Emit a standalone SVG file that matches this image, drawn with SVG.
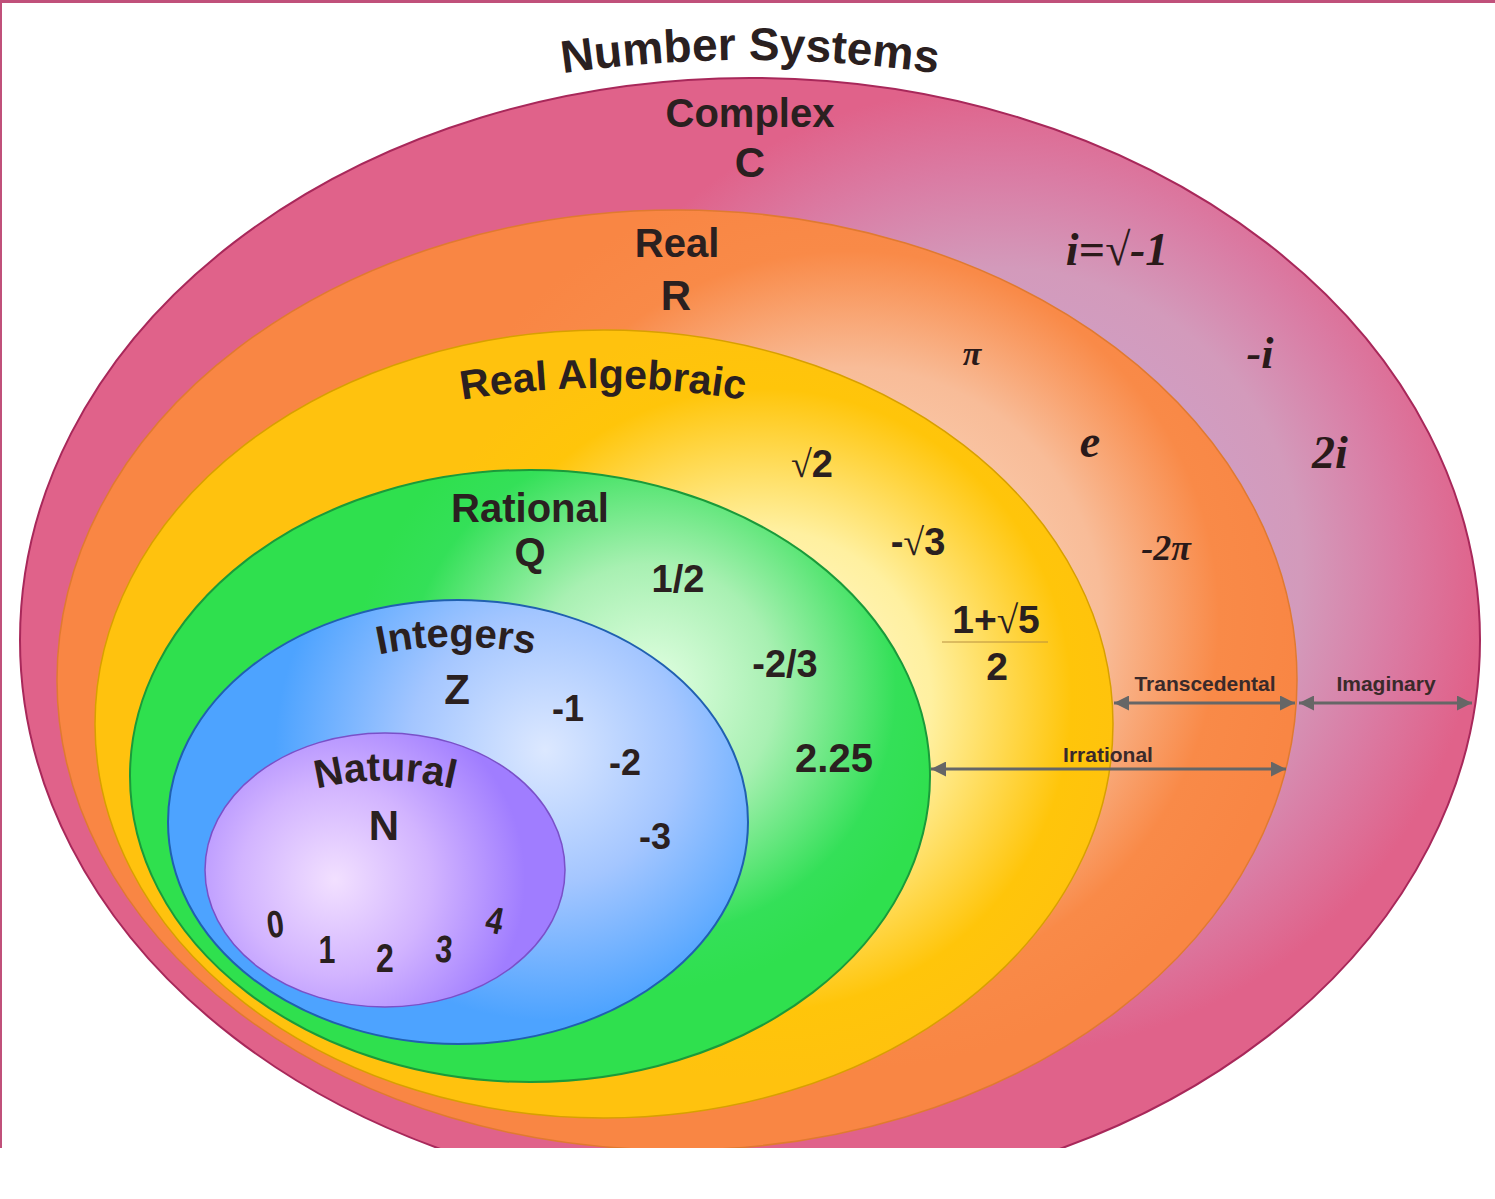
<svg xmlns="http://www.w3.org/2000/svg" width="1495" height="1199" viewBox="0 0 1495 1199">
<style>
.lbl{font-family:"Liberation Sans",Arial,sans-serif;font-weight:bold;fill:#2a2020;text-anchor:middle}
.math{font-family:"Liberation Serif","Times New Roman",serif;font-style:italic;font-weight:bold;fill:#2a1a1a;text-anchor:middle}
.sm{font-family:"Liberation Sans",Arial,sans-serif;font-weight:bold;fill:#3a2a2a;text-anchor:middle;font-size:21px}
.conn{stroke:#666;stroke-width:3;fill:none;marker-start:url(#ah);marker-end:url(#ah)}
</style>
<defs>
<clipPath id="clip"><rect x="0" y="0" width="1495" height="1148"/></clipPath>
<marker id="ah" viewBox="0 0 10 10" refX="10" refY="5" markerWidth="6" markerHeight="5" markerUnits="strokeWidth" orient="auto-start-reverse"><path d="M0,0 L10,5 L0,10 z" fill="#666"/></marker>
<radialGradient id="gC" gradientUnits="userSpaceOnUse" cx="1000" cy="570" r="520"><stop offset="0" stop-color="#c8a8d8"/><stop offset="0.58" stop-color="#d39abb"/><stop offset="0.76" stop-color="#da7ca4"/><stop offset="0.93" stop-color="#e0628a"/></radialGradient>
<radialGradient id="gR" gradientUnits="userSpaceOnUse" cx="850" cy="620" r="450"><stop offset="0" stop-color="#fde0c8"/><stop offset="0.56" stop-color="#f8bc98"/><stop offset="0.82" stop-color="#f98a48"/><stop offset="1" stop-color="#f98644"/></radialGradient>
<radialGradient id="gA" gradientUnits="userSpaceOnUse" cx="760" cy="700" r="380"><stop offset="0" stop-color="#fffbe0"/><stop offset="0.45" stop-color="#fff0a0"/><stop offset="0.82" stop-color="#ffc50a"/><stop offset="1" stop-color="#ffc20e"/></radialGradient>
<radialGradient id="gQ" gradientUnits="userSpaceOnUse" cx="650" cy="690" r="300"><stop offset="0" stop-color="#e4ffe4"/><stop offset="0.42" stop-color="#a8f0b2"/><stop offset="0.82" stop-color="#34e058"/><stop offset="1" stop-color="#2fe04e"/></radialGradient>
<radialGradient id="gZ" gradientUnits="userSpaceOnUse" cx="545" cy="750" r="270"><stop offset="0" stop-color="#dce8ff"/><stop offset="0.5" stop-color="#a4c6ff"/><stop offset="1" stop-color="#4da3ff"/></radialGradient>
<radialGradient id="gN" gradientUnits="userSpaceOnUse" cx="335" cy="880" r="190"><stop offset="0" stop-color="#f2e0ff"/><stop offset="0.5" stop-color="#d2b4ff"/><stop offset="1" stop-color="#a07dff"/></radialGradient>
<path id="arcTitle" d="M 545 76 Q 750 44 955 76"/>
<path id="arcAlg" d="M 450 402 Q 603 374 756 402"/>
<path id="arcInt" d="M 368 657 Q 456 636 544 657"/>
<path id="arcNat" d="M 308 791 Q 385 770 462 791"/>
</defs>
<rect x="0" y="0" width="1495" height="1199" fill="#fff"/>
<line x1="0" y1="1.5" x2="1495" y2="1.5" stroke="#c0507a" stroke-width="3"/>
<line x1="1" y1="0" x2="1" y2="1148" stroke="#c0507a" stroke-width="2"/>

<text class="lbl" font-size="46"><textPath href="#arcTitle" startOffset="50%">Number Systems</textPath></text>

<g clip-path="url(#clip)">
<g id="complex">
<ellipse cx="750" cy="640" rx="730" ry="562" fill="url(#gC)" stroke="#a8285a" stroke-width="2"/>
<text class="lbl" x="750" y="127" font-size="40">Complex</text>
<text class="lbl" x="750" y="177" font-size="42">C</text>
<text class="math" x="1117" y="265" font-size="46">i=√-1</text>
<text class="math" x="1260" y="368" font-size="44">-i</text>
<text class="math" x="1330" y="468" font-size="46">2i</text>
</g>
<g id="real">
<ellipse cx="677" cy="680" rx="620" ry="470" fill="url(#gR)" stroke="#e07a30" stroke-width="1.5"/>
<text class="lbl" x="677" y="257" font-size="40">Real</text>
<text class="lbl" x="676" y="310" font-size="42">R</text>
<text class="math" x="972" y="365" font-size="34" font-weight="normal">π</text>
<text class="math" x="1090" y="457" font-size="46">e</text>
<text class="math" x="1166" y="560" font-size="36" font-weight="normal">-2π</text>
</g>
<g id="algebraic">
<ellipse cx="604" cy="724" rx="509" ry="394" fill="url(#gA)" stroke="#d8a000" stroke-width="1.5"/>
<text class="lbl" font-size="41"><textPath href="#arcAlg" startOffset="50%">Real Algebraic</textPath></text>
<text class="lbl" x="812" y="477" font-size="38"><tspan font-family="Liberation Serif,serif" font-weight="normal">√</tspan>2</text>
<text class="lbl" x="918" y="555" font-size="38">-<tspan font-family="Liberation Serif,serif" font-weight="normal">√</tspan>3</text>
<text class="lbl" x="996" y="633" font-size="39">1+<tspan font-family="Liberation Serif,serif" font-weight="normal">√</tspan>5</text>
<line x1="942" y1="642" x2="1048" y2="642" stroke="#b89040" stroke-width="1"/>
<text class="lbl" x="997" y="680" font-size="39">2</text>
</g>
<g id="rational">
<ellipse cx="530" cy="776" rx="400" ry="306" fill="url(#gQ)" stroke="#1a9a3a" stroke-width="2"/>
<text class="lbl" x="530" y="522" font-size="40">Rational</text>
<text class="lbl" x="530" y="566" font-size="40">Q</text>
<text class="lbl" x="678" y="592" font-size="38">1/2</text>
<text class="lbl" x="785" y="677" font-size="38">-2/3</text>
<text class="lbl" x="834" y="772" font-size="40">2.25</text>
</g>
<g id="integers">
<ellipse cx="458" cy="822" rx="290" ry="222" fill="url(#gZ)" stroke="#2060b0" stroke-width="2"/>
<text class="lbl" font-size="40"><textPath href="#arcInt" startOffset="50%">Integers</textPath></text>
<text class="lbl" x="457" y="704" font-size="42">Z</text>
<text class="lbl" x="568" y="721" font-size="36">-1</text>
<text class="lbl" x="625" y="775" font-size="36">-2</text>
<text class="lbl" x="655" y="849" font-size="36">-3</text>
</g>
<g id="natural">
<ellipse cx="385" cy="870" rx="180" ry="137" fill="url(#gN)" stroke="#7a50c8" stroke-width="1.5"/>
<text class="lbl" font-size="40"><textPath href="#arcNat" startOffset="50%">Natural</textPath></text>
<text class="lbl" x="384" y="840" font-size="42">N</text>
<text class="lbl" font-size="38" transform="translate(277 937) rotate(-8) scale(0.8 1)">0</text>
<text class="lbl" font-size="38" transform="translate(327 963) scale(0.8 1)">1</text>
<text class="lbl" font-size="40" transform="translate(385 972) scale(0.8 1)">2</text>
<text class="lbl" font-size="38" transform="translate(443 962) rotate(5) scale(0.8 1)">3</text>
<text class="lbl" font-size="38" transform="translate(492 933) rotate(12) scale(0.8 1)">4</text>
</g>
</g>

<g id="connectors">
<line class="conn" x1="1114" y1="703" x2="1295" y2="703"/>
<line class="conn" x1="1299" y1="703" x2="1472" y2="703"/>
<line class="conn" x1="931" y1="769" x2="1286" y2="769"/>
<text class="sm" x="1205" y="691">Transcedental</text>
<text class="sm" x="1386" y="691">Imaginary</text>
<text class="sm" x="1108" y="762">Irrational</text>
</g>
</svg>
